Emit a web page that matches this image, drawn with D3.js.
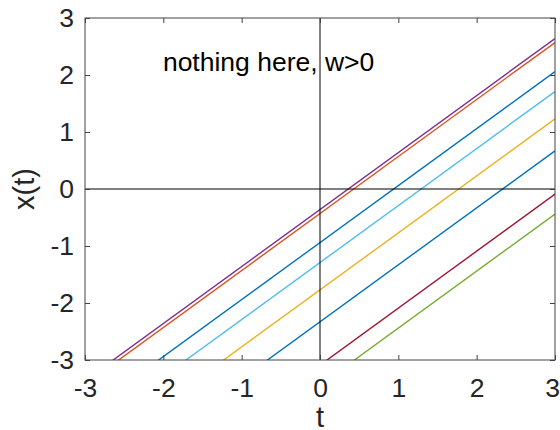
<!DOCTYPE html>
<html>
<head>
<meta charset="utf-8">
<script src="https://cdn.jsdelivr.net/npm/d3@7"></script>
<style>
  html, body { margin: 0; padding: 0; background: #fff; }
  svg { display: block; font-family: "Liberation Sans", Arial, Helvetica, sans-serif; }
</style>
</head>
<body>
<svg id="chart" width="560" height="430"></svg>
<script>
// ---- data ----
const tEnds = [-3, 3];
const seriesNames = ["purple", "orange", "blue1", "lightblue", "yellow", "blue2", "red", "green"];
const seriesColors = ["#7E2F8E", "#D95319", "#0072BD", "#4DBEEE", "#EDB120", "#0072BD", "#A2142F", "#77AC30"];
const purpleVals = [-3.36, 2.64];
const orangeVals = [-3.43, 2.57];
const blue1Vals = [-3.94, 2.06];
const lightblueVals = [-4.29, 1.71];
const yellowVals = [-4.77, 1.23];
const blue2Vals = [-5.33, 0.67];
const redVals = [-6.09, -0.09];
const greenVals = [-6.44, -0.44];
const seriesValues = [purpleVals, orangeVals, blue1Vals, lightblueVals, yellowVals, blue2Vals, redVals, greenVals];
const xTicks = [-3, -2, -1, 0, 1, 2, 3];
const yTicks = [-3, -2, -1, 0, 1, 2, 3];
const annotation = "nothing here, w>0";
const annotationPos = [-1.98, 2.07];
const xLabel = "t";
const yLabel = "x(t)";

// ---- layout ----
const pL = 85, pR = 555, pT = 18, pB = 360;
const svg = d3.select("#chart");
const x = d3.scaleLinear().domain([-3, 3]).range([pL, pR]);
const y = d3.scaleLinear().domain([-3, 3]).range([pB, pT]);
const axisColor = "#444";
const textColor = "#262626";
const fs = 26.5;

svg.append("defs").append("clipPath").attr("id", "clip")
  .append("rect").attr("x", pL).attr("y", pT).attr("width", pR - pL).attr("height", pB - pT);

const fmt = d => d < 0 ? "-" + Math.abs(d) : String(d);

// annotation text
svg.append("text").attr("x", x(annotationPos[0]) - 2).attr("y", y(annotationPos[1]))
  .attr("font-size", fs).attr("fill", "#000").text(annotation);

// series lines
const line = d3.line().x(d => x(d[0])).y(d => y(d[1]));
const g = svg.append("g").attr("clip-path", "url(#clip)");
seriesValues.forEach((vals, i) => {
  g.append("path")
    .datum(tEnds.map((t, k) => [t, vals[k]]))
    .attr("d", line)
    .attr("fill", "none")
    .attr("stroke", seriesColors[i])
    .attr("stroke-width", 1.4);
});

// zero lines
g.append("line").attr("x1", x(0)).attr("x2", x(0)).attr("y1", pT).attr("y2", pB)
  .attr("stroke", "#000").attr("stroke-width", 1);
g.append("line").attr("x1", pL).attr("x2", pR).attr("y1", y(0)).attr("y2", y(0))
  .attr("stroke", "#000").attr("stroke-width", 1);

// axes (ticks inside)
const axB = svg.append("g").attr("transform", `translate(0,${pB})`)
  .call(d3.axisBottom(x).tickValues(xTicks).tickSize(-5).tickPadding(18).tickFormat(fmt));
const axT = svg.append("g").attr("transform", `translate(0,${pT})`)
  .call(d3.axisTop(x).tickValues(xTicks).tickSize(-5).tickFormat(""));
const axL = svg.append("g").attr("transform", `translate(${pL},0)`)
  .call(d3.axisLeft(y).tickValues(yTicks).tickSize(-5).tickPadding(11).tickFormat(fmt));
const axR = svg.append("g").attr("transform", `translate(${pR},0)`)
  .call(d3.axisRight(y).tickValues(yTicks).tickSize(-5).tickFormat(""));
[axB, axT, axL, axR].forEach(a => {
  a.selectAll("path.domain").remove();
  a.selectAll("line").attr("stroke", axisColor);
  a.selectAll("text").attr("font-size", fs).attr("fill", textColor)
    .attr("font-family", "'Liberation Sans', Arial, sans-serif");
});
axB.selectAll("text").attr("dy", "0.71em")
  .attr("dx", d => d === xTicks[xTicks.length - 1] ? -3 : 0);

// box
svg.append("rect").attr("x", pL).attr("y", pT).attr("width", pR - pL).attr("height", pB - pT)
  .attr("fill", "none").attr("stroke", axisColor).attr("stroke-width", 1);

// axis labels
svg.append("text").attr("x", x(0)).attr("y", 427).attr("text-anchor", "middle")
  .attr("font-size", 29).attr("fill", textColor).text(xLabel);
svg.append("text").attr("transform", `translate(34,${(pT + pB) / 2}) rotate(-90)`)
  .attr("text-anchor", "middle").attr("font-size", 29).attr("fill", textColor).text(yLabel);
</script>
</body>
</html>
